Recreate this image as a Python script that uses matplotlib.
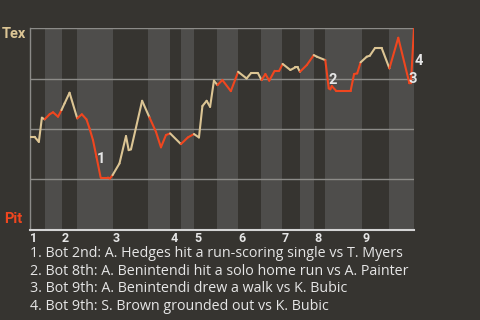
import matplotlib
matplotlib.use("Agg")
import matplotlib.pyplot as plt
import numpy as np

# ---- data ----
play = [0, 1.2, 2.3, 3.1, 3.8, 5.1, 6.0, 7.3, 8.2, 9.0, 10.3, 12.3, 13.5, 14.7, 15.5,
        16.4, 17.3, 18.4, 20.3, 20.8, 21.5, 23.3, 25.0, 25.7, 26.3, 29.2, 31.1, 32.8,
        34.1, 35.4, 36.5, 39.3, 41.1, 42.7, 44.0, 44.9, 46.0, 46.9, 47.9, 48.8, 50.1,
        52.3, 54.2, 56.4, 57.5, 59.4, 60.3, 61.3, 62.3, 63.7, 64.9, 65.8, 67.8, 69.1,
        69.7, 70.3, 72.1, 73.9, 74.7, 76.9, 77.8, 78.2, 78.6, 79.7, 83.5, 84.4, 85.2,
        86.1, 87.7, 88.5, 89.8, 91.6, 93.6, 95.9, 98.8, 99.2, 100]
tex_wp = [46.1, 46.1, 43.6, 55.6, 54.8, 57.3, 58.3, 56.1, 59.4, 62.7, 68.0, 55.3, 57.3,
          54.8, 50.3, 44.5, 36.2, 25.9, 25.9, 25.4, 27.1, 32.9, 46.5, 39.5, 39.9, 64.0,
          55.8, 48.6, 40.9, 47.0, 47.8, 42.5, 45.8, 47.5, 45.8, 61.4, 64.0, 61.0, 74.0,
          71.8, 74.3, 68.8, 78.4, 75.1, 77.6, 77.6, 74.3, 77.3, 74.0, 78.9, 78.9, 82.3,
          79.3, 80.6, 80.6, 78.4, 81.8, 86.7, 85.9, 84.2, 70.2, 69.7, 71.3, 69.0, 69.0,
          77.3, 77.6, 83.1, 85.9, 86.4, 90.1, 90.1, 80.1, 95.3, 72.7, 72.7, 100.0]
top_starts = [0, 8.33, 21.6, 36.5, 42.7, 54.2, 65.6, 74.0, 86.5]
bot_starts = [3.9, 12.24, 30.7, 39.3, 48.7, 60.2, 70.3, 76.8, 93.5]
inning_labels = ["1", "2", "3", "4", "5", "6", "7", "8", "9"]
total_plays = 100
event_idx = [17, 60, 75, 76]
event_labels = ["1", "2", "3", "4"]
event_texts = [
    "1. Bot 2nd: A. Hedges hit a run-scoring single vs T. Myers",
    "2. Bot 8th: A. Benintendi hit a solo home run vs A. Painter",
    "3. Bot 9th: A. Benintendi drew a walk vs K. Bubic",
    "4. Bot 9th: S. Brown grounded out vs K. Bubic",
]
teams = ["Tex", "Pit"]

assert len(play) == len(tex_wp)

# ---- style ----
BG = "#363430"
BAND = "#4e4d4b"
GRID = "#8c8b88"
TAN = "#dcc594"
RED = "#f0461f"
TXT = "#e6e6e6"
plt.rcParams['font.family'] = ['Roboto', 'DejaVu Sans']

fig = plt.figure(figsize=(4.8, 3.2), dpi=100, facecolor=BG)
ax = fig.add_axes([30/480, 1-229.7/320, 384/480, (229.7-28.3)/320])
ax.set_facecolor(BG)
ax.set_xlim(0, total_plays)
ax.set_ylim(0, 100)

# bands for bottom halves
ends = top_starts[1:] + [total_plays]
for s, e in zip(bot_starts, ends):
    ax.axvspan(s, e, color=BAND, lw=0, zorder=0)

for gy in [25, 50, 75, 100]:
    ax.axhline(gy, color=GRID, lw=1.0, zorder=1)

for sp in ["top", "right"]:
    ax.spines[sp].set_visible(False)
ax.spines["left"].set_color(GRID)
ax.spines["left"].set_linewidth(1.0)
ax.spines["bottom"].set_color("#d4d4d4")
ax.spines["bottom"].set_linewidth(1.5)

# colored line segments
for i in range(len(play) - 1):
    mid = (play[i] + play[i+1]) / 2
    half = sum(1 for b in bot_starts if mid >= b) + sum(1 for t in top_starts[1:] if mid >= t)
    col = RED if half % 2 == 1 else TAN
    ax.plot(play[i:i+2], tex_wp[i:i+2], color=col, lw=1.5, solid_capstyle="round", zorder=3)

# event labels
offsets = [(0, 19), (4, 8), (2, 4), (5, -33)]
for idx, lab, (dx, dy) in zip(event_idx, event_labels, offsets):
    ax.annotate(lab, (play[idx], tex_wp[idx]), xytext=(dx*0.72, dy*0.72),
                textcoords="offset points", ha="center", va="center",
                color=TXT, fontsize=10.5, fontweight="bold", zorder=5,
                annotation_clip=False)

ax.set_yticks([])
ax.set_xticks(top_starts)
ax.set_xticklabels(inning_labels, ha="left", fontsize=9, fontweight="bold", color=TXT)
ax.tick_params(axis="x", length=0, pad=1.5)

fig.text(14/480, 1-33.5/320, teams[0], color=TAN, fontsize=10.5, fontweight="bold",
         ha="center", va="center")
fig.text(13/480, 1-219/320, teams[1], color=RED, fontsize=10.5, fontweight="bold",
         ha="center", va="center")

baselines = [256.7, 274.6, 292.5, 310.5]
for t, b in zip(event_texts, baselines):
    fig.text(30/480, 1-b/320, t, color=TXT, fontsize=10.3, ha="left", va="baseline",
             family=["Open Sans", "DejaVu Sans"])

fig.savefig("out.png", dpi=100, facecolor=BG)
